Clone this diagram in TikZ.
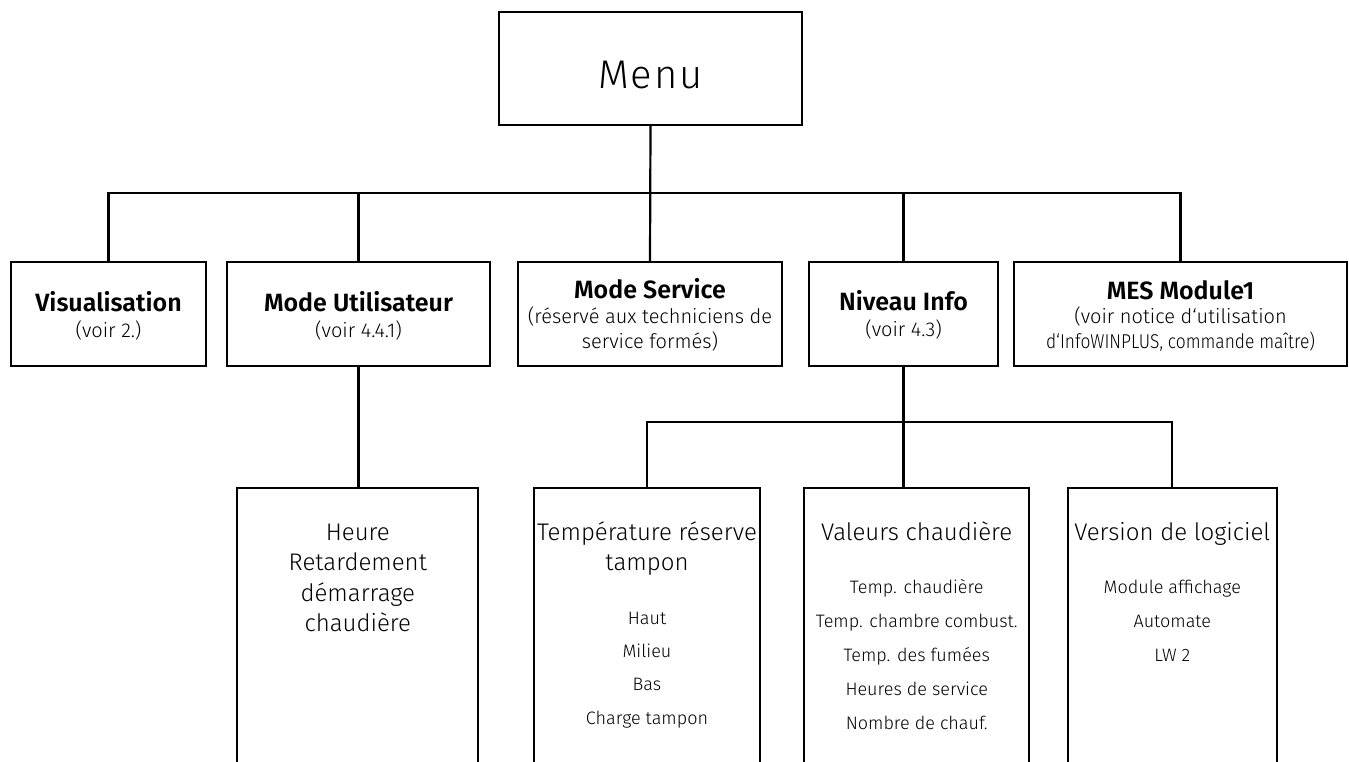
\documentclass[tikz,border=0pt]{standalone}
\usepackage{fontspec}
\setmainfont{Fira Sans Light}[BoldFont={Fira Sans SemiBold}]
\newfontfamily\menufam{Fira Sans Light}[LetterSpace=5]
\newfontfamily\narrowfam{Fira Sans Light}[FakeStretch=0.87]
\begin{document}
\begin{tikzpicture}[x=1pt,y=-1pt,
  box/.style={draw=black, line width=2.2pt, inner sep=0pt, fill=none},
  conn/.style={draw=black, line width=2.2pt},
  txt/.style={inner sep=0pt, anchor=base, text=black},
  menufont/.style={font=\menufam\fontsize{40}{48}\selectfont},
  ttwo/.style={font=\bfseries\fontsize{25}{30}\selectfont},
  stwo/.style={font=\fontsize{20}{25}\selectfont},
  stwonarrow/.style={font=\narrowfam\fontsize{20}{25}\selectfont},
  tthree/.style={font=\fontsize{24}{30}\selectfont},
  item/.style={font=\fontsize{18}{25}\selectfont}]
\useasboundingbox (0,0) rectangle (1349,761);
\begin{scope}
\clip (0,0) rectangle (1349,761);
% boxes
\node[box, minimum width=303pt, minimum height=113pt] (menu) at (650.5,68.5) {};
\node[box, minimum width=195pt, minimum height=104pt] (vis) at (108.5,314) {};
\node[box, minimum width=263pt, minimum height=104pt] (mu) at (358.5,314) {};
\node[box, minimum width=264pt, minimum height=104pt] (ms) at (650,314) {};
\node[box, minimum width=189pt, minimum height=104pt] (ni) at (903.5,314) {};
\node[box, minimum width=333pt, minimum height=104pt] (mes) at (1180.5,314) {};
\node[box, minimum width=241pt, minimum height=312pt] (heure) at (357.8,644) {};
\node[box, minimum width=226pt, minimum height=312pt] (temp) at (647,644) {};
\node[box, minimum width=225pt, minimum height=312pt] (val) at (916.7,644) {};
\node[box, minimum width=209pt, minimum height=312pt] (ver) at (1172.3,644) {};
% connectors
\coordinate (bar) at (650,193);
\coordinate (sub) at (903.5,422);
\draw[conn] (vis.north) |- (bar) -| (mes.north);
\draw[conn] (menu.south) -- (ms.north);
\draw[conn] (mu.north) -- (mu.north |- bar);
\draw[conn] (ni.north) -- (ni.north |- bar);
\draw[conn] (mu.south) -- (mu.south |- heure.north);
\draw[conn] (temp.north) |- (sub) -| (ver.north);
\draw[conn] (ni.south) -- (ni.south |- val.north);
% texts
\node[txt, menufont] (menu-t) at (650.5,88) {Menu};
\node[txt, ttwo] (vis-t) at (108.5,311) {Visualisation};
\node[txt, stwo] (vis-s) at (108.5,337) {(voir 2.)};
\node[txt, ttwo] (mu-t) at (358.5,311) {Mode Utilisateur};
\node[txt, stwo] (mu-s) at (358.5,337) {(voir 4.4.1)};
\node[txt, ttwo] (ms-t) at (650,298) {Mode Service};
\node[txt, stwo] (ms-s1) at (650,323) {(réservé aux techniciens de};
\node[txt, stwo] (ms-s2) at (650,348) {service formés)};
\node[txt, ttwo] (ni-t) at (903.5,310) {Niveau Info};
\node[txt, stwo] (ni-s) at (903.5,336) {(voir 4.3)};
\node[txt, ttwo] (mes-t) at (1180.5,299) {MES Module1};
\node[txt, stwo] (mes-s1) at (1180.5,323) {(voir notice d‘utilisation};
\node[txt, stwonarrow] (mes-s2) at (1180.5,348) {d‘InfoWINPLUS, commande maître)};
% level 3
\node[txt, tthree] (h1) at (357.8,540) {Heure};
\node[txt, tthree] (h2) at (357.8,570.5) {Retardement};
\node[txt, tthree] (h3) at (357.8,601) {démarrage};
\node[txt, tthree] (h4) at (357.8,631.5) {chaudière};
\node[txt, tthree] (t1) at (647,540) {Température réserve};
\node[txt, tthree] (t2) at (647,570.5) {tampon};
\node[txt, item] (t3) at (647,624) {Haut};
\node[txt, item] (t4) at (647,657) {Milieu};
\node[txt, item] (t5) at (647,690.5) {Bas};
\node[txt, item] (t6) at (647,724) {Charge tampon};
\node[txt, tthree] (v1) at (916.7,540) {Valeurs chaudière};
\node[txt, item] (v2) at (916.7,593.5) {Temp. chaudière};
\node[txt, item] (v3) at (916.7,627.5) {Temp. chambre combust.};
\node[txt, item] (v4) at (916.7,661.5) {Temp. des fumées};
\node[txt, item] (v5) at (916.7,695.5) {Heures de service};
\node[txt, item] (v6) at (916.7,729.5) {Nombre de chauf.};
\node[txt, tthree] (r1) at (1172.3,540) {Version de logiciel};
\node[txt, item] (r2) at (1172.3,593.5) {Module affichage};
\node[txt, item] (r3) at (1172.3,627.5) {Automate};
\node[txt, item] (r4) at (1172.3,661.5) {LW 2};
\end{scope}
\end{tikzpicture}
\end{document}
